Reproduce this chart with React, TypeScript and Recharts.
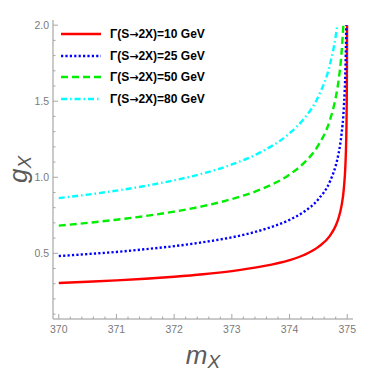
import React from 'react';
import { LineChart, Line, XAxis, YAxis, Legend } from 'recharts';

// mass grid (GeV) shared by all curves, each curve stops where it hits g = 2
const mGrid = [370, 370.5, 371, 371.5, 372, 372.5, 373, 373.5, 374, 374.25, 374.5, 374.7, 374.8, 374.85, 374.9, 374.94, 374.97, 374.98, 374.99, 374.995];

const gRed = [0.305, 0.313, 0.322, 0.333, 0.346, 0.362, 0.383, 0.412, 0.455, 0.489, 0.542, 0.615, 0.681, 0.732, 0.81, 0.92, 1.094, 1.211, 1.44, 1.713];
const gBlue = [0.482, 0.495, 0.509, 0.527, 0.547, 0.573, 0.605, 0.651, 0.72, 0.773, 0.856, 0.972, 1.076, 1.156, 1.28, 1.454, 1.729, 1.913];
const gGreen = [0.682, 0.7, 0.721, 0.745, 0.774, 0.81, 0.857, 0.92, 1.018, 1.094, 1.211, 1.376, 1.523, 1.636, 1.811];
const gCyan = [0.863, 0.886, 0.912, 0.943, 0.98, 1.025, 1.084, 1.165, 1.289, 1.385, 1.532, 1.741, 1.927];

const endM = [374.997, 374.983, 374.933, 374.828];
const endG = 2.0;

const names = ['Γ(S→2X)=10 GeV', 'Γ(S→2X)=25 GeV', 'Γ(S→2X)=50 GeV', 'Γ(S→2X)=80 GeV'];

const xMajor = [370, 371, 372, 373, 374, 375];
const xTicks = [370, 370.2, 370.4, 370.6, 370.8, 371, 371.2, 371.4, 371.6, 371.8, 372, 372.2, 372.4, 372.6, 372.8, 373, 373.2, 373.4, 373.6, 373.8, 374, 374.2, 374.4, 374.6, 374.8, 375];
const yMajor = [0.5, 1.0, 1.5, 2.0];
const yTicks = [0.1, 0.2, 0.3, 0.4, 0.5, 0.6, 0.7, 0.8, 0.9, 1.0, 1.1, 1.2, 1.3, 1.4, 1.5, 1.6, 1.7, 1.8, 1.9, 2.0];

const styles = [
  { color: '#ff0000', dash: undefined, width: 2.4 },
  { color: '#0000ff', dash: '2.2 2.2', width: 2.4 },
  { color: '#00ee00', dash: '7 4', width: 2.4 },
  { color: '#00ffff', dash: '6 3 1.5 3', width: 2.4 },
];

const build = (g: number[], i: number) =>
  g.map((v, k) => ({ m: mGrid[k], g: v })).concat([{ m: endM[i], g: endG }]);

const series = [gRed, gBlue, gGreen, gCyan].map((g, i) => ({
  name: names[i],
  data: build(g, i),
  ...styles[i],
}));

const FONT = '"Liberation Sans", Arial, sans-serif';
const TICK_COLOR = '#a6a6a6';
const LABEL_COLOR = '#7a7a7a';

const isMajor = (v: number, majors: number[]) => majors.some(m => Math.abs(m - v) < 1e-6);

const XTick = (props: any) => {
  const { x, y, payload, side } = props;
  const major = isMajor(payload.value, xMajor);
  const len = major ? 5 : 2.5;
  const dir = side === 'bottom' ? -1 : 1;
  return (
    <g>
      <line x1={x} y1={y} x2={x} y2={y + dir * len} stroke={TICK_COLOR} strokeWidth={1} />
      {side === 'bottom' && major && (
        <text x={x} y={y + 7} dy="0.71em" textAnchor="middle" fontSize={10.5} fontFamily={FONT} fill={LABEL_COLOR}>
          {payload.value}
        </text>
      )}
    </g>
  );
};

const YTick = (props: any) => {
  const { x, y, payload, side } = props;
  const major = isMajor(payload.value, yMajor);
  const len = major ? 5 : 2.5;
  const dir = side === 'left' ? 1 : -1;
  return (
    <g>
      <line x1={x} y1={y} x2={x + dir * len} y2={y} stroke={TICK_COLOR} strokeWidth={1} />
      {side === 'left' && major && (
        <text x={x - 4} y={y} dy="0.355em" textAnchor="end" fontSize={10.5} fontFamily={FONT} fill={LABEL_COLOR}>
          {payload.value.toFixed(1)}
        </text>
      )}
    </g>
  );
};

const LegendText = ({ text }: { text: string }) => {
  const [a, b] = text.split('→');
  return (
    <span>
      {a}
      <span style={{ fontFamily: '"DejaVu Sans", sans-serif', fontSize: 11 }}>→</span>
      {b}
    </span>
  );
};

const renderLegend = (props: any) => {
  const payload = props.payload || [];
  return (
    <div>
      {payload.map((p: any) => {
        const s = series.find(q => q.name === p.value) || series[0];
        return (
          <div key={p.value} style={{ display: 'flex', alignItems: 'center', height: 21.8 }}>
            <svg width={44} height={6}>
              <line x1={2} y1={3} x2={42} y2={3} stroke={s.color} strokeWidth={s.width} strokeDasharray={s.dash} />
            </svg>
            <span style={{ marginLeft: 7, fontFamily: FONT, fontWeight: 'bold', fontSize: 12, color: '#000', whiteSpace: 'nowrap' }}>
              <LegendText text={p.value} />
            </span>
          </div>
        );
      })}
    </div>
  );
};

const XLabel = (props: any) => {
  const { viewBox } = props;
  const cx = viewBox.x + viewBox.width / 2;
  return (
    <text x={cx} y={viewBox.y + 45} textAnchor="middle" fontFamily={FONT} fontStyle="italic" fill="#5a5a5a">
      <tspan fontSize={26}>m</tspan>
      <tspan fontSize={19} dy={4}>X</tspan>
    </text>
  );
};

const YLabel = (props: any) => {
  const { viewBox } = props;
  const cy = viewBox.y + viewBox.height / 2;
  const x = 27;
  return (
    <text x={x} y={cy} transform={`rotate(-90 ${x} ${cy})`} textAnchor="middle" fontFamily={FONT} fontStyle="italic" fill="#5a5a5a">
      <tspan fontSize={26}>g</tspan>
      <tspan fontSize={19} dy={4}>X</tspan>
    </text>
  );
};

export default function App() {
  return (
    <div style={{ position: 'absolute', left: 0, top: 0, background: '#fff' }}>
      <LineChart width={374} height={373} margin={{ top: 20, right: 21, left: 13, bottom: 24 }}>
        <XAxis
          xAxisId="b"
          dataKey="m"
          type="number"
          domain={[369.9, 375.1]}
          allowDataOverflow
          ticks={xTicks}
          interval={0}
          tickSize={0}
          tickMargin={0}
          height={30}
          stroke="#b8b8b8"
          strokeWidth={1.5}
          tick={(p: any) => <XTick {...p} side="bottom" />}
          label={<XLabel />}
        />
        <XAxis
          xAxisId="t"
          orientation="top"
          dataKey="m"
          type="number"
          domain={[369.9, 375.1]}
          allowDataOverflow
          ticks={xTicks}
          interval={0}
          tickSize={0}
          tickMargin={0}
          height={0}
          stroke="#a8a8a8"
          tick={(p: any) => <XTick {...p} side="top" />}
        />
        <YAxis
          yAxisId="l"
          type="number"
          domain={[0.068, 2.034]}
          allowDataOverflow
          ticks={yTicks}
          interval={0}
          tickSize={0}
          tickMargin={0}
          width={40}
          stroke="#b8b8b8"
          strokeWidth={1.5}
          tick={(p: any) => <YTick {...p} side="left" />}
          label={<YLabel />}
        />
        <YAxis
          yAxisId="r"
          orientation="right"
          type="number"
          domain={[0.068, 2.034]}
          allowDataOverflow
          ticks={yTicks}
          interval={0}
          tickSize={0}
          tickMargin={0}
          width={0}
          stroke="#a8a8a8"
          tick={(p: any) => <YTick {...p} side="right" />}
        />
        <Legend
          layout="vertical"
          align="center"
          verticalAlign="middle"
          wrapperStyle={{ left: 59, top: 23, width: 'auto' }}
          content={renderLegend}
        />
        {series.map(s => (
          <Line
            key={s.name}
            xAxisId="b"
            yAxisId="l"
            data={s.data}
            dataKey="g"
            name={s.name}
            type="monotone"
            stroke={s.color}
            strokeWidth={s.width}
            strokeDasharray={s.dash}
            dot={false}
            activeDot={false}
            isAnimationActive={false}
          />
        ))}
      </LineChart>
    </div>
  );
}
